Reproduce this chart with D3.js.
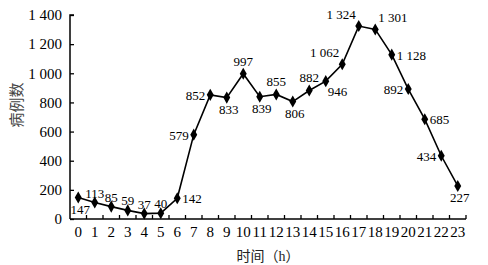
<!DOCTYPE html>
<html>
<head>
<meta charset="utf-8">
<script src="https://cdn.jsdelivr.net/npm/d3@7"></script>
<style>
  body { margin: 0; background: #fff; }
  svg text { font-family: "Liberation Serif", "Noto Sans CJK SC", serif; }
</style>
</head>
<body>
<svg id="chart" width="488" height="265"></svg>
<script>
// data
const hours = d3.range(0, 24);
const cases = [147, 113, 85, 59, 37, 40, 142, 579, 852, 833, 997, 839, 855, 806, 882, 946, 1062, 1324, 1301, 1128, 892, 685, 434, 227];
const yTicks = [0, 200, 400, 600, 800, 1000, 1200, 1400];
// where each value label sits around its point
const labelPos = ["b", "tc", "tc", "tc", "tc", "tc", "r", "l", "l", "b", "t", "b", "t", "b", "t", "br", "tl", "tl", "tr", "r", "l", "r", "l", "b"];

const fmt = d3.formatLocale({ decimal: ".", thousands: " ", grouping: [3], currency: ["", ""] }).format(",d");

const svg = d3.select("#chart");
const m = { left: 70, right: 466, top: 15, bottom: 219 };

const x = d3.scaleBand().domain(hours).range([m.left, m.right]);
const y = d3.scaleLinear().domain([0, 1400]).range([m.bottom, m.top]);

// y axis
const yAxis = svg.append("g")
  .attr("transform", `translate(${m.left},0)`)
  .call(d3.axisRight(y).tickValues(yTicks).tickSize(4).tickFormat(""));
yAxis.select(".domain").attr("stroke-width", 1.5).attr("d", `M4,${m.top}H0V${m.bottom}`);
yAxis.selectAll(".tick line").attr("stroke-width", 1.3);

svg.append("g").selectAll("text")
  .data(yTicks)
  .join("text")
  .attr("x", m.left - 8)
  .attr("y", d => y(d))
  .attr("dy", "0.35em")
  .attr("text-anchor", "end")
  .style("font-size", "15px")
  .text(d => fmt(d));

// x axis, ticks at band edges pointing up
const edges = d3.range(0, 25).map(i => m.left + i * x.step());
const xg = svg.append("g");
xg.append("line")
  .attr("x1", m.left).attr("x2", m.right)
  .attr("y1", m.bottom).attr("y2", m.bottom)
  .attr("stroke", "#000").attr("stroke-width", 1.5);
xg.selectAll(".tk")
  .data(edges.slice(1))
  .join("line")
  .attr("x1", d => d).attr("x2", d => d)
  .attr("y1", m.bottom).attr("y2", m.bottom - 4)
  .attr("stroke", "#000").attr("stroke-width", 1.3);

svg.append("g").selectAll("text")
  .data(hours)
  .join("text")
  .attr("x", d => x(d) + x.bandwidth() / 2)
  .attr("y", 237)
  .attr("text-anchor", "middle")
  .style("font-size", "15px")
  .text(d => d);

// axis titles
svg.append("text")
  .attr("x", 268)
  .attr("y", 261)
  .attr("text-anchor", "middle")
  .style("font-size", "14px")
  .attr("fill", "#222")
  .text("时间（h）");

svg.append("text")
  .attr("transform", "translate(22,105) rotate(-90)")
  .attr("text-anchor", "middle")
  .style("font-size", "15px")
  .attr("fill", "#444")
  .text("病例数");

// line + markers
const cx = i => x(hours[i]) + x.bandwidth() / 2;
const line = d3.line().x((d, i) => cx(i)).y(d => y(d));

svg.append("path")
  .datum(cases)
  .attr("fill", "none")
  .attr("stroke", "#000")
  .attr("stroke-width", 1.6)
  .attr("d", line);

svg.append("g").selectAll("path")
  .data(cases)
  .join("path")
  .attr("transform", (d, i) => `translate(${cx(i)},${y(d)})`)
  .attr("d", d3.symbol().type(d3.symbolDiamond).size(42))
  .attr("fill", "#000");

// value labels
const off = {
  t: [0, -8, "middle"], tc: [0, -5, "middle"], b: [2, 16, "middle"], l: [-5, 5, "end"], r: [5, 5, "start"],
  tl: [-3, -7, "end"], tr: [3, -7, "start"], br: [2, 15, "start"]
};
svg.append("g").selectAll("text")
  .data(cases)
  .join("text")
  .attr("x", (d, i) => cx(i) + off[labelPos[i]][0])
  .attr("y", (d, i) => y(d) + off[labelPos[i]][1])
  .attr("text-anchor", (d, i) => off[labelPos[i]][2])
  .style("font-size", "13px")
  .text(d => fmt(d));
</script>
</body>
</html>
